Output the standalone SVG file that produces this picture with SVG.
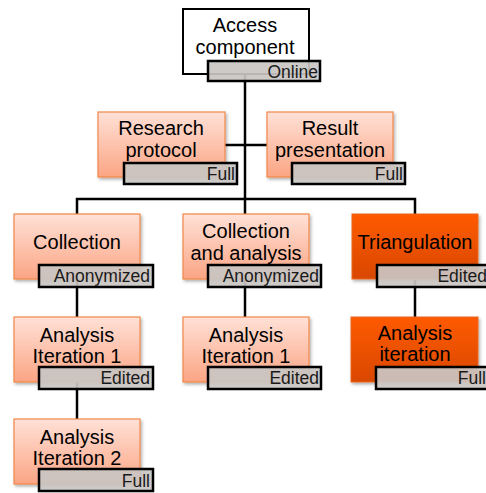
<svg xmlns="http://www.w3.org/2000/svg" width="486" height="493" viewBox="0 0 486 493">
<defs>
<linearGradient id="gLight" x1="0" y1="0" x2="0" y2="1">
<stop offset="0" stop-color="#FFE1D7"/>
<stop offset="1" stop-color="#FBA584"/>
</linearGradient>
<linearGradient id="gDark" x1="0" y1="0" x2="0" y2="1">
<stop offset="0" stop-color="#FF5A00"/>
<stop offset="1" stop-color="#D94800"/>
</linearGradient>
<filter id="sh" x="-10%" y="-10%" width="130%" height="130%">
<feDropShadow dx="1.5" dy="2" stdDeviation="1.5" flood-color="#000" flood-opacity="0.3"/>
</filter>
</defs>
<style>
.light{fill:url(#gLight);stroke:#F0874A;stroke-width:1.2;filter:url(#sh)}
.dark{fill:url(#gDark);stroke:#E8661E;stroke-width:1;filter:url(#sh)}
.top{fill:#fff;stroke:#000;stroke-width:2}
.lab{fill:#C9C5C3;fill-opacity:0.92;stroke:#000;stroke-width:2.5}
.t{font-family:"Liberation Sans",Arial,sans-serif;font-size:20px;fill:#000;text-anchor:middle}
.lt{font-family:"Liberation Sans",Arial,sans-serif;font-size:17.5px;fill:#1a1a1a;text-anchor:end}
.c{stroke:#000;stroke-width:2.5;fill:none}
</style>
<g id="connectors">
<path class="c" d="M245,75 V199"/>
<path class="c" d="M225,145 H267"/>
<path class="c" d="M77,214 V199 H415 V214"/>
<path class="c" d="M245,199 V214"/>
<path class="c" d="M77,280 V317"/>
<path class="c" d="M245,280 V317"/>
<path class="c" d="M415,280 V317"/>
<path class="c" d="M77,383 V419"/>
</g>
<g id="access">
<rect class="top" x="183" y="9" width="126" height="65"/>
<text class="t" x="245" y="32">Access</text>
<text class="t" x="245" y="53.5">component</text>
<rect class="lab" x="208" y="61" width="112" height="20"/>
<text class="lt" x="318" y="77.5">Online</text>
</g>
<g id="research">
<rect class="light" x="98" y="112" width="127" height="65"/>
<text class="t" x="161" y="135">Research</text>
<text class="t" x="161" y="157">protocol</text>
<rect class="lab" x="124" y="163" width="113" height="21"/>
<text class="lt" x="235" y="180">Full</text>
</g>
<g id="result">
<rect class="light" x="267" y="112" width="126" height="65"/>
<text class="t" x="330" y="135">Result</text>
<text class="t" x="330" y="157">presentation</text>
<rect class="lab" x="292" y="163" width="113" height="21"/>
<text class="lt" x="403" y="180">Full</text>
</g>
<g id="collection">
<rect class="light" x="14" y="214" width="126" height="65"/>
<text class="t" x="77" y="249">Collection</text>
<rect class="lab" x="39" y="265" width="114" height="22"/>
<text class="lt" x="150" y="282">Anonymized</text>
</g>
<g id="collanalysis">
<rect class="light" x="183" y="214" width="126" height="65"/>
<text class="t" x="246" y="238">Collection</text>
<text class="t" x="246" y="259.5">and analysis</text>
<rect class="lab" x="208" y="265" width="113" height="22"/>
<text class="lt" x="319" y="282">Anonymized</text>
</g>
<g id="triangulation">
<rect class="dark" x="352" y="214" width="126" height="65"/>
<text class="t" x="415" y="249">Triangulation</text>
<rect class="lab" x="377" y="265" width="114" height="22"/>
<text class="lt" x="487" y="282">Edited</text>
</g>
<g id="analysis1a">
<rect class="light" x="14" y="317" width="126" height="65"/>
<text class="t" x="77" y="341.5">Analysis</text>
<text class="t" x="77" y="363">Iteration 1</text>
<rect class="lab" x="39" y="367" width="114" height="22"/>
<text class="lt" x="150" y="384">Edited</text>
</g>
<g id="analysis1b">
<rect class="light" x="183" y="317" width="126" height="65"/>
<text class="t" x="246" y="341.5">Analysis</text>
<text class="t" x="246" y="363">Iteration 1</text>
<rect class="lab" x="208" y="367" width="113" height="22"/>
<text class="lt" x="319" y="384">Edited</text>
</g>
<g id="analysisiter">
<rect class="dark" x="351" y="317" width="127" height="65"/>
<text class="t" x="415" y="339.5">Analysis</text>
<text class="t" x="415" y="361">iteration</text>
<rect class="lab" x="376" y="367" width="114" height="22"/>
<text class="lt" x="486" y="384">Full</text>
</g>
<g id="analysis2">
<rect class="light" x="14" y="419" width="126" height="65"/>
<text class="t" x="77" y="443.5">Analysis</text>
<text class="t" x="77" y="465">Iteration 2</text>
<rect class="lab" x="39" y="469" width="114" height="22"/>
<text class="lt" x="150" y="487">Full</text>
</g>
</svg>
